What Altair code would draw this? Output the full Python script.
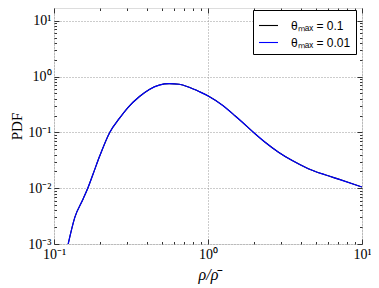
import altair as alt
import pandas as pd

# ---- data ----
rho = [0.1236, 0.1365, 0.1545, 0.1664, 0.1794, 0.198, 0.2296, 0.2666, 0.301,
       0.359, 0.416, 0.483, 0.560, 0.650, 0.754, 0.875, 1.01, 1.24, 1.51,
       1.66, 1.98, 2.36, 2.87, 3.50, 4.48, 5.75, 7.35, 10.0]
pdf_theta_01 = [0.0010, 0.0030, 0.0064, 0.0103, 0.018, 0.0377, 0.099, 0.180, 0.276,
                0.44, 0.59, 0.706, 0.75, 0.73, 0.644, 0.54, 0.445, 0.308, 0.195,
                0.155, 0.0995, 0.0659, 0.0441, 0.0316, 0.0224, 0.0174, 0.0140, 0.0105]
pdf_theta_001 = [0.0010, 0.0030, 0.0064, 0.0103, 0.018, 0.0377, 0.099, 0.180, 0.276,
                 0.44, 0.59, 0.706, 0.75, 0.73, 0.644, 0.54, 0.445, 0.308, 0.195,
                 0.155, 0.0995, 0.0659, 0.0441, 0.0316, 0.0224, 0.0174, 0.0140, 0.0105]
series_names = ["θₘₐₓ = 0.1", "θₘₐₓ = 0.01"]
series_colors = ["#000000", "#0000ff"]

x_major = [0.1, 1, 10]
x_major_labels = ["10⁻¹", "10⁰", "10¹"]
y_major = [0.001, 0.01, 0.1, 1, 10]
y_major_labels = ["10⁻³", "10⁻²", "10⁻¹", "10⁰", "10¹"]
x_minor = [m * d for d in [0.1, 1] for m in range(2, 10)]
y_minor = [m * d for d in [0.001, 0.01, 0.1, 1] for m in range(2, 10)]

df_black = pd.DataFrame({"rho": rho, "pdf": pdf_theta_01, "series": series_names[0]})
df_blue = pd.DataFrame({"rho": rho, "pdf": pdf_theta_001, "series": series_names[1]})

MAJOR = "abs(log(datum.value)/LN10 - round(log(datum.value)/LN10)) < 0.001"


def label_expr(vals, labels):
    expr = "''"
    for v, l in zip(vals, labels):
        expr = f"abs(datum.value/{v} - 1) < 1e-6 ? '{l}' : ({expr})"
    return expr


tick_expr = alt.ExprRef(expr=f"{MAJOR} ? -5 : -2.5")
grid_op = alt.ExprRef(expr=f"{MAJOR} ? 1 : 0")

xs = alt.Scale(type="log", domain=[0.1, 10], nice=False)
ys = alt.Scale(type="log", domain=[0.001, 17], nice=False)

common_axis = dict(domain=False, tickSize=tick_expr, tickColor="#333",
                   tickWidth=1)

color_enc = alt.Color(
    "series:N",
    scale=alt.Scale(domain=series_names, range=series_colors),
    sort=series_names,
    legend=alt.Legend(title=None, orient="none", legendX=199, legendY=2,
                      fillColor="white", strokeColor="black", padding=5,
                      symbolType="stroke", symbolSize=361,
                      symbolStrokeWidth=1.1,
                      labelFont="Liberation Sans", labelFontSize=12,
                      labelColor="#000", labelOffset=12, rowPadding=0,
                      cornerRadius=0),
)

main = alt.Chart(df_black).mark_line(strokeWidth=1.1, clip=True,
                                     interpolate="monotone").encode(
    x=alt.X("rho:Q", scale=xs, title="ρ/ρ̄",
            axis=alt.Axis(values=x_major + x_minor, orient="bottom",
                          labelExpr=label_expr(x_major, x_major_labels),
                          labelPadding=8, labelFont="Liberation Serif",
                          labelFontSize=14, labelColor="#000",
                          labelFlush=False, labelOverlap=False,
                          grid=True, gridDash=[1, 2], gridColor="#999",
                          gridOpacity=grid_op,
                          titleFont="Liberation Serif", titleFontSize=16,
                          titleFontStyle="italic",
                          titleFontWeight="normal", titleColor="#000",
                          titlePadding=3, **common_axis)),
    y=alt.Y("pdf:Q", scale=ys, title="PDF",
            axis=alt.Axis(values=y_major + y_minor, orient="left",
                          labelExpr=label_expr(y_major, y_major_labels),
                          labelPadding=8, labelFont="Liberation Serif",
                          labelFontSize=14, labelColor="#000",
                          labelFlush=False, labelOverlap=False,
                          grid=True, gridDash=[1, 2], gridColor="#999",
                          gridOpacity=grid_op,
                          titleFont="Liberation Serif", titleFontSize=15,
                          titleFontWeight="normal", titleColor="#000",
                          titlePadding=3, **common_axis)),
    color=color_enc,
)

blue = alt.Chart(df_blue).mark_line(strokeWidth=1.2, clip=True,
                                    interpolate="monotone").encode(
    x=alt.X("rho:Q", scale=xs, axis=None),
    y=alt.Y("pdf:Q", scale=ys, axis=None),
    color=color_enc,
)

frame = alt.Chart(df_black).mark_line(opacity=0).encode(
    x=alt.X("rho:Q", scale=xs,
            axis=alt.Axis(values=x_major + x_minor, orient="top", labels=False,
                          title=None, grid=False, **common_axis)),
    y=alt.Y("pdf:Q", scale=ys,
            axis=alt.Axis(values=y_major + y_minor, orient="right", labels=False,
                          title=None, grid=False, **common_axis)),
)

chart = alt.layer(main, blue, frame).resolve_axis(
    x="independent", y="independent"
).properties(
    width=308, height=236,
    autosize=alt.AutoSizeParams(type="none"),
    padding={"left": 46, "top": 0, "right": 9, "bottom": 44},
).configure_view(stroke="#333", strokeWidth=1.5).configure(background="white")

chart.save("out.html", embed_options={"renderer": "svg", "actions": False})
